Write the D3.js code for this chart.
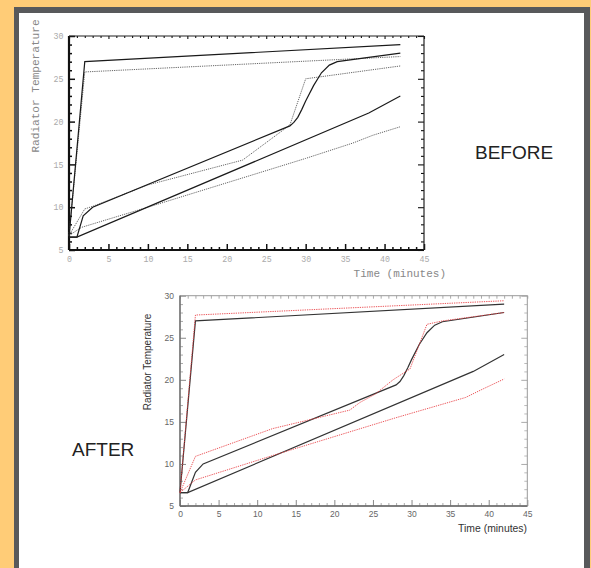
<!DOCTYPE html>
<html>
<head>
<meta charset="utf-8">
<script src="https://cdn.jsdelivr.net/npm/d3@7"></script>
<style>
  html, body { margin: 0; padding: 0; background: #ffcc77; }
  svg { display: block; }
</style>
</head>
<body>
<svg id="chart" width="591" height="568"></svg>
<script>
// ---------------- DATA ----------------
const xTicks = [0, 5, 10, 15, 20, 25, 30, 35, 40, 45];
const yTicks = [5, 10, 15, 20, 25, 30];
const xLabel = "Time (minutes)";
const yLabel = "Radiator Temperature";

// BEFORE chart (black solid / dotted)
const beforeSolidA_t = [0, 2, 42];
const beforeSolidA_v = [6.5, 27.0, 29.0];
const beforeDotA_t = [0, 2, 42];
const beforeDotA_v = [6.7, 25.8, 27.6];
const beforeSolidB_t = [0, 1, 1.8, 3, 28, 28.5, 29, 29.5, 30, 31, 32, 33, 34, 42];
const beforeSolidB_v = [6.5, 6.5, 9.0, 10.0, 19.5, 19.9, 20.5, 21.4, 22.4, 24.2, 25.7, 26.6, 27.0, 28.0];
const beforeDotB_t = [0, 2, 3, 10, 22, 28, 30, 42];
const beforeDotB_v = [6.7, 9.8, 10.1, 12.6, 15.5, 19.6, 25.0, 26.5];
const beforeSolidC_t = [0, 1, 38, 42];
const beforeSolidC_v = [6.5, 6.5, 21.0, 23.0];
const beforeDotC_t = [0, 1.6, 10, 30, 34, 36, 38.5, 42];
const beforeDotC_v = [6.7, 7.65, 10.0, 15.7, 16.9, 17.5, 18.4, 19.4];

// AFTER chart (black solid / red dotted)
const afterSolidA_t = [0, 2, 42];
const afterSolidA_v = [6.6, 27.0, 29.0];
const afterDotA_t = [0, 2, 42];
const afterDotA_v = [6.6, 27.7, 29.4];
const afterSolidB_t = [0, 1, 2, 3, 28, 28.5, 29, 29.5, 30, 31, 32, 33, 34, 42];
const afterSolidB_v = [6.6, 6.6, 9.0, 10.0, 19.4, 19.8, 20.5, 21.4, 22.4, 24.2, 25.6, 26.5, 26.9, 28.0];
const afterDotB_t = [0, 2, 12, 22, 23.3, 25.3, 27.6, 29.8, 32, 34, 42];
const afterDotB_v = [6.6, 10.9, 14.2, 16.4, 17.3, 18.3, 20.0, 21.3, 26.6, 27.0, 28.0];
const afterSolidC_t = [0, 1, 38, 42];
const afterSolidC_v = [6.6, 6.6, 21.0, 23.0];
const afterDotC_t = [0, 2, 12, 28, 37, 39, 42];
const afterDotC_v = [6.6, 8.1, 11.0, 15.5, 17.9, 18.8, 20.1];

const zip = (t, v) => t.map((d, i) => [d, v[i]]);

// ---------------- FRAME ----------------
const svg = d3.select("#chart");
svg.append("rect").attr("x", 0).attr("y", 0).attr("width", 591).attr("height", 568).attr("fill", "#ffcc77");
svg.append("rect").attr("x", 14).attr("y", 7).attr("width", 576).attr("height", 561).attr("fill", "#58595b");
svg.append("rect").attr("x", 19).attr("y", 13).attr("width", 565).attr("height", 555).attr("fill", "#ffffff");

// ---------------- BEFORE ----------------
(function () {
  const x = d3.scaleLinear().domain([0, 45]).range([69, 424]);
  const y = d3.scaleLinear().domain([5, 30]).range([250, 36]);
  const g = svg.append("g");
  const mono = "'Liberation Mono', 'DejaVu Sans Mono', monospace";

  const minorX = d3.range(0, 46, 1).filter(v => v % 5 !== 0);
  const minorY = d3.range(5, 31, 1).filter(v => v % 5 !== 0);

  function styleAxis(sel, w) {
    sel.select(".domain").remove();
    sel.selectAll(".tick line").attr("stroke", "#111").attr("stroke-width", w);
  }
  g.append("g").attr("transform", "translate(0,250)")
    .call(d3.axisBottom(x).tickValues(xTicks).tickSize(-6).tickPadding(6))
    .call(s => { styleAxis(s, 1.5); s.selectAll("text").attr("font-family", mono).attr("font-size", 8.3).attr("fill", "#aaa"); });
  g.append("g").attr("transform", "translate(0,250)")
    .call(d3.axisBottom(x).tickValues(minorX).tickSize(-3).tickFormat(""))
    .call(s => styleAxis(s, 1.5));
  g.append("g").attr("transform", "translate(0,36)")
    .call(d3.axisTop(x).tickValues(xTicks).tickSize(-3).tickFormat(""))
    .call(s => styleAxis(s, 1.1));
  g.append("g").attr("transform", "translate(0,36)")
    .call(d3.axisTop(x).tickValues(minorX).tickSize(-2).tickFormat(""))
    .call(s => styleAxis(s, 1.1));
  g.append("g").attr("transform", "translate(69,0)")
    .call(d3.axisLeft(y).tickValues(yTicks).tickSize(-6).tickPadding(5.5))
    .call(s => { styleAxis(s, 1.5); s.selectAll("text").attr("font-family", mono).attr("font-size", 8.3).attr("fill", "#aaa"); });
  g.append("g").attr("transform", "translate(69,0)")
    .call(d3.axisLeft(y).tickValues(minorY).tickSize(-3).tickFormat(""))
    .call(s => styleAxis(s, 1.5));
  g.append("g").attr("transform", "translate(424,0)")
    .call(d3.axisRight(y).tickValues(yTicks).tickSize(-6).tickFormat(""))
    .call(s => styleAxis(s, 1.1));
  g.append("g").attr("transform", "translate(424,0)")
    .call(d3.axisRight(y).tickValues(minorY).tickSize(-3).tickFormat(""))
    .call(s => styleAxis(s, 1.1));

  g.append("line").attr("x1", 69).attr("x2", 424).attr("y1", 250).attr("y2", 250).attr("stroke", "#111").attr("stroke-width", 2.2);
  g.append("line").attr("x1", 69).attr("x2", 69).attr("y1", 36).attr("y2", 250).attr("stroke", "#111").attr("stroke-width", 2.2);
  g.append("line").attr("x1", 69).attr("x2", 424).attr("y1", 36).attr("y2", 36).attr("stroke", "#222").attr("stroke-width", 1.2);
  g.append("line").attr("x1", 424).attr("x2", 424).attr("y1", 36).attr("y2", 250).attr("stroke", "#222").attr("stroke-width", 1.2);

  const line = d3.line().x(d => x(d[0])).y(d => y(d[1]));
  const solid = [zip(beforeSolidA_t, beforeSolidA_v), zip(beforeSolidB_t, beforeSolidB_v), zip(beforeSolidC_t, beforeSolidC_v)];
  const dotted = [zip(beforeDotA_t, beforeDotA_v), zip(beforeDotB_t, beforeDotB_v), zip(beforeDotC_t, beforeDotC_v)];
  g.selectAll(".bd").data(dotted).join("path").attr("d", line)
    .attr("fill", "none").attr("stroke", "#666").attr("stroke-width", 1).attr("stroke-dasharray", "1.2,1");
  g.selectAll(".bs").data(solid).join("path").attr("d", line)
    .attr("fill", "none").attr("stroke", "#1a1a1a").attr("stroke-width", 1.2);

  g.append("text").attr("x", 446).attr("y", 277).attr("text-anchor", "end")
    .attr("font-family", mono).attr("font-size", 11).attr("fill", "#888").text(xLabel);
  g.append("text").attr("transform", "translate(38.5,86) rotate(-90)").attr("text-anchor", "middle")
    .attr("font-family", mono).attr("font-size", 11.1).attr("fill", "#888").text(yLabel);
})();

// ---------------- AFTER ----------------
(function () {
  const x = d3.scaleLinear().domain([0, 45]).range([180, 527.3]);
  const y = d3.scaleLinear().domain([5, 30]).range([506, 295.7]);
  const g = svg.append("g");
  const sans = "'Liberation Sans', Arial, sans-serif";
  const minorX = d3.range(0, 46, 1).filter(v => v % 5 !== 0);
  const minorY = d3.range(5, 31, 1).filter(v => v % 5 !== 0);

  function styleAxis(sel, c) {
    sel.select(".domain").remove();
    sel.selectAll(".tick line").attr("stroke", c).attr("stroke-width", 1);
  }
  g.append("g").attr("transform", "translate(0,506)")
    .call(d3.axisBottom(x).tickValues(xTicks).tickSize(-6).tickPadding(5))
    .call(s => { styleAxis(s, "#888"); s.selectAll("text").attr("font-family", sans).attr("font-size", 8.5).attr("fill", "#666"); });
  g.append("g").attr("transform", "translate(0,506)")
    .call(d3.axisBottom(x).tickValues(minorX).tickSize(-3).tickFormat(""))
    .call(s => styleAxis(s, "#aaa"));
  g.append("g").attr("transform", "translate(0,295.7)")
    .call(d3.axisTop(x).tickValues(d3.range(0, 46, 1)).tickSize(-3).tickFormat(""))
    .call(s => styleAxis(s, "#aaa"));
  g.append("g").attr("transform", "translate(180,0)")
    .call(d3.axisLeft(y).tickValues(yTicks).tickSize(-6).tickPadding(6))
    .call(s => { styleAxis(s, "#888"); s.selectAll("text").attr("font-family", sans).attr("font-size", 8.5).attr("fill", "#666"); });
  g.append("g").attr("transform", "translate(180,0)")
    .call(d3.axisLeft(y).tickValues(minorY).tickSize(-3).tickFormat(""))
    .call(s => styleAxis(s, "#aaa"));
  g.append("g").attr("transform", "translate(527.3,0)")
    .call(d3.axisRight(y).tickValues(yTicks).tickSize(-6).tickFormat(""))
    .call(s => styleAxis(s, "#aaa"));
  g.append("g").attr("transform", "translate(527.3,0)")
    .call(d3.axisRight(y).tickValues(minorY).tickSize(-3).tickFormat(""))
    .call(s => styleAxis(s, "#bbb"));

  g.append("rect").attr("x", 180).attr("y", 295.7).attr("width", 347.3).attr("height", 210.3)
    .attr("fill", "none").attr("stroke", "#999").attr("stroke-width", 1);
  g.append("line").attr("x1", 180).attr("x2", 527.3).attr("y1", 506).attr("y2", 506).attr("stroke", "#666").attr("stroke-width", 1.3);
  g.append("line").attr("x1", 180).attr("x2", 180).attr("y1", 295.7).attr("y2", 506).attr("stroke", "#666").attr("stroke-width", 1.3);

  const line = d3.line().x(d => x(d[0])).y(d => y(d[1]));
  const solid = [zip(afterSolidA_t, afterSolidA_v), zip(afterSolidB_t, afterSolidB_v), zip(afterSolidC_t, afterSolidC_v)];
  const dotted = [zip(afterDotA_t, afterDotA_v), zip(afterDotB_t, afterDotB_v), zip(afterDotC_t, afterDotC_v)];
  g.selectAll(".as").data(solid).join("path").attr("d", line)
    .attr("fill", "none").attr("stroke", "#333").attr("stroke-width", 1.2);
  g.selectAll(".ad").data(dotted).join("path").attr("d", line)
    .attr("fill", "none").attr("stroke", "#e8393e").attr("stroke-width", 1).attr("stroke-dasharray", "1.3,1").attr("stroke-opacity", 0.85);

  g.append("text").attr("x", 527).attr("y", 531.5).attr("text-anchor", "end")
    .attr("font-family", sans).attr("font-size", 10.4).attr("fill", "#333").text(xLabel);
  g.append("text").attr("transform", "translate(150.5,362) rotate(-90)").attr("text-anchor", "middle")
    .attr("font-family", sans).attr("font-size", 10).attr("fill", "#333").text(yLabel);
})();

// ---------------- Captions ----------------
svg.append("text").attr("x", 475).attr("y", 159)
  .attr("font-family", "'Liberation Sans', Arial, sans-serif").attr("font-size", 19).attr("fill", "#222").text("BEFORE");
svg.append("text").attr("x", 72).attr("y", 456)
  .attr("font-family", "'Liberation Sans', Arial, sans-serif").attr("font-size", 19).attr("fill", "#222").text("AFTER");
</script>
</body>
</html>
